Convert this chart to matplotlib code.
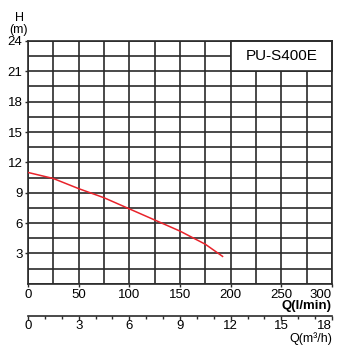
import numpy as np
import matplotlib
matplotlib.use('Agg')
import matplotlib.pyplot as plt
from matplotlib.patches import Rectangle
from matplotlib.ticker import MultipleLocator

plt.rcParams['font.family'] = ['Liberation Sans', 'DejaVu Sans']

# pump curve
q_lmin = [0, 25, 50, 75, 100, 125, 150, 175, 192]
head_m = [11.0, 10.4, 9.4, 8.5, 7.4, 6.3, 5.2, 3.9, 2.7]
model = 'PU-S400E'

x_ticks = [0, 50, 100, 150, 200, 250, 300]
y_ticks = [3, 6, 9, 12, 15, 18, 21, 24]
m3h_ticks = [0, 3, 6, 9, 12, 15, 18]

GRID = '#2a2a2a'
RED = '#e8232b'

fig = plt.figure(figsize=(3.39, 3.45), dpi=100)
ax = fig.add_axes([0.0826, 0.1777, 0.8968, 0.7035])

ax.set_xlim(0, 300)
ax.set_ylim(0, 24)
ax.set_xticks(x_ticks)
ax.set_yticks(y_ticks)
ax.xaxis.set_minor_locator(MultipleLocator(25))
ax.yaxis.set_minor_locator(MultipleLocator(1.5))
ax.grid(which='both', color=GRID, lw=1.2)
ax.set_axisbelow(True)
for s in ax.spines.values():
    s.set_color(GRID); s.set_linewidth(1.2)
ax.tick_params(axis='both', which='major', labelsize=9.5, length=2.5,
               width=1, color=GRID, pad=1.5)
ax.tick_params(axis='both', which='minor', length=0)
ax.get_xticklabels()[-1].set_ha('right')

ax.plot(q_lmin, head_m, color=RED, lw=1.1, zorder=3)

# model name box
ax.add_patch(Rectangle((200, 21), 100, 3, facecolor='white', edgecolor=GRID,
                       lw=1.2, zorder=2.5, clip_on=False))
ax.text(250, 22.5, model, ha='center', va='center', fontsize=11, zorder=4)

fig.text(0.057, 0.948, 'H', ha='center', va='center', fontsize=9)
fig.text(0.055, 0.912, '(m)', ha='center', va='center', fontsize=9)
fig.text(0.979, 0.112, 'Q(l/min)', ha='right', va='center', fontsize=9.5,
         fontweight='bold')

# second flow scale in m3/h
ax2 = fig.add_axes([0.0826, 0.0849, 0.8968, 0.0001])
ax2.set_xlim(0, 18)
ax2.set_xticks(m3h_ticks)
ax2.xaxis.set_minor_locator(MultipleLocator(1))
ax2.set_yticks([])
for k in ['top', 'left', 'right']:
    ax2.spines[k].set_visible(False)
ax2.spines['bottom'].set_color(GRID)
ax2.spines['bottom'].set_linewidth(1.2)
ax2.tick_params(axis='x', which='major', labelsize=9.5, length=3,
                width=1, color=GRID, pad=0)
ax2.tick_params(axis='x', which='minor', length=2, width=1, color=GRID)
ax2.get_xticklabels()[-1].set_ha('right')
fig.text(0.979, 0.009, 'Q(m³/h)', ha='right', va='baseline', fontsize=9)

fig.savefig('out.png', dpi=100)
